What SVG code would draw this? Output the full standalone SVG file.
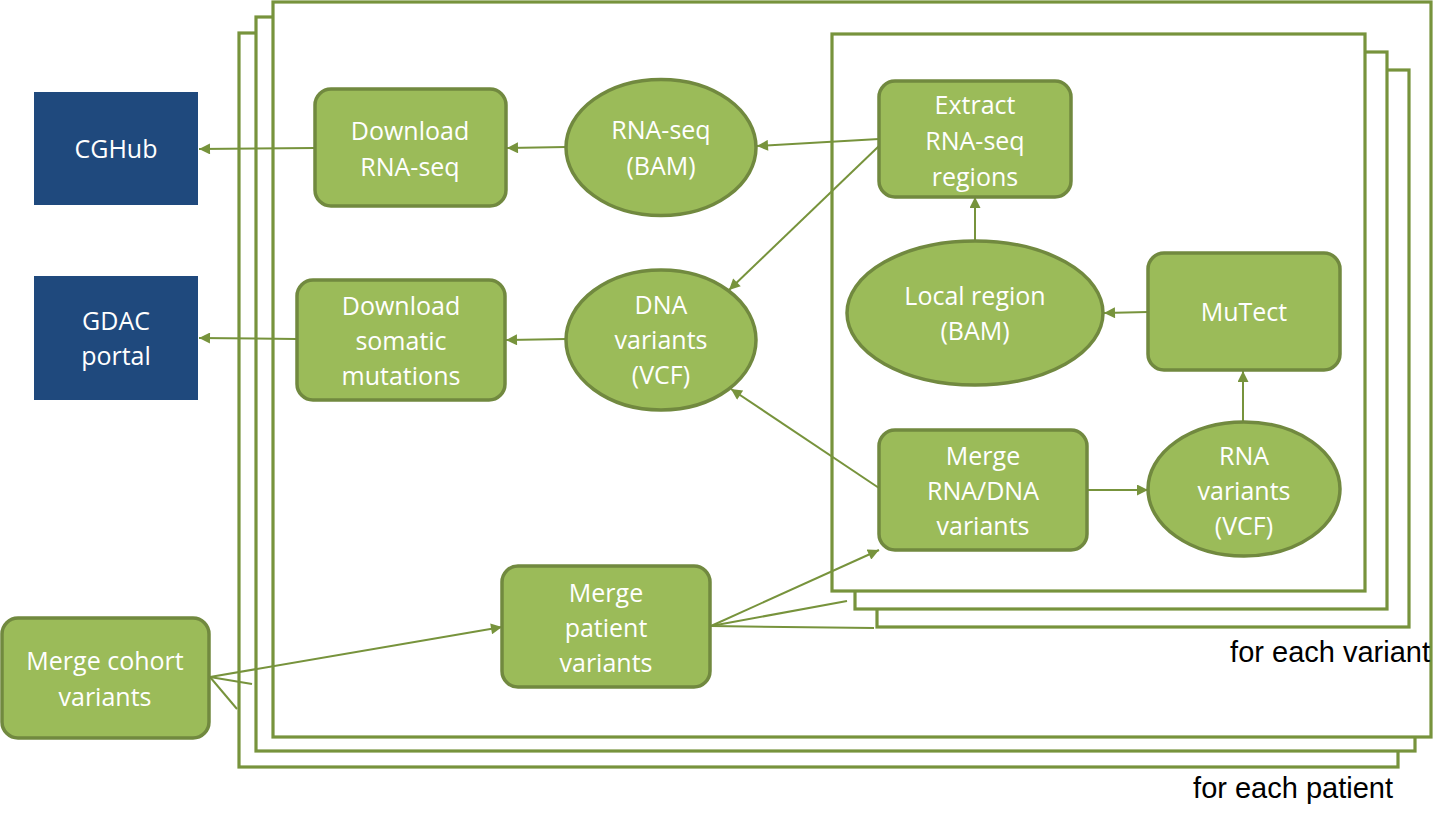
<svg xmlns="http://www.w3.org/2000/svg" width="1447" height="823" viewBox="0 0 1447 823">
<defs>
<style>
.frame{fill:#FFFFFF;stroke:#77933C;stroke-width:3.2}
.node{fill:#9BBB59;stroke:#71893F;stroke-width:3.5}
.src{fill:#1F497D;stroke:none}
.lbl{font-family:"Open Sans","Noto Sans","DejaVu Sans",sans-serif;font-size:25px;fill:#FFFFFF;text-anchor:middle}
.cap{font-family:"Liberation Sans",Arial,sans-serif;font-size:29px;fill:#000000;text-anchor:end}
.edge{stroke:#77933C;stroke-width:2;fill:none}
</style>
<marker id="arr" viewBox="0 0 10 10" refX="10" refY="5" markerWidth="12" markerHeight="11" markerUnits="userSpaceOnUse" orient="auto">
<path d="M0,0 L10,5 L0,10 z" fill="#77933C"/>
</marker>
</defs>
<rect width="1447" height="823" fill="#FFFFFF"/>

<g id="patient-frames">
<rect class="frame" x="239" y="33" width="1159" height="734"/>
<rect class="frame" x="256" y="17" width="1159" height="734"/>
<rect class="frame" x="273" y="2" width="1158" height="735"/>
</g>
<g id="variant-frames">
<rect class="frame" x="877" y="70" width="532" height="557"/>
<rect class="frame" x="855" y="52" width="532" height="557"/>
<rect class="frame" x="832" y="34" width="533" height="557"/>
</g>

<g id="connectors">
<line class="edge" x1="315" y1="148" x2="199" y2="149" marker-end="url(#arr)"/>
<line class="edge" x1="566" y1="147" x2="507" y2="148" marker-end="url(#arr)"/>
<line class="edge" x1="879" y1="139" x2="757" y2="146" marker-end="url(#arr)"/>
<line class="edge" x1="879" y1="146" x2="729" y2="290" marker-end="url(#arr)"/>
<line class="edge" x1="975" y1="241" x2="975" y2="197" marker-end="url(#arr)"/>
<line class="edge" x1="1148" y1="312" x2="1104" y2="313" marker-end="url(#arr)"/>
<line class="edge" x1="1243" y1="422" x2="1243" y2="371" marker-end="url(#arr)"/>
<line class="edge" x1="1088" y1="490" x2="1148" y2="490" marker-end="url(#arr)"/>
<line class="edge" x1="879" y1="488" x2="731" y2="389" marker-end="url(#arr)"/>
<line class="edge" x1="566" y1="339" x2="506" y2="340" marker-end="url(#arr)"/>
<line class="edge" x1="297" y1="339" x2="199" y2="338" marker-end="url(#arr)"/>
<line class="edge" x1="711" y1="626" x2="879" y2="550" marker-end="url(#arr)"/>
<line class="edge" x1="711" y1="626" x2="847" y2="601"/>
<line class="edge" x1="711" y1="626" x2="874" y2="628"/>
<line class="edge" x1="210" y1="677" x2="502" y2="627" marker-end="url(#arr)"/>
<line class="edge" x1="210" y1="677" x2="252" y2="684"/>
<line class="edge" x1="210" y1="677" x2="237" y2="709"/>
</g>

<g id="cghub">
<rect class="src" x="34" y="92" width="164" height="113"/>
<text class="lbl" x="116" y="158">CGHub</text>
</g>
<g id="gdac">
<rect class="src" x="34" y="276" width="164" height="124"/>
<text class="lbl" x="116" y="330">GDAC</text>
<text class="lbl" x="116" y="365">portal</text>
</g>
<g id="download-rnaseq">
<rect class="node" x="315" y="89" width="191" height="117" rx="16"/>
<text class="lbl" x="410" y="140">Download</text>
<text class="lbl" x="410" y="176">RNA-seq</text>
</g>
<g id="rnaseq-bam">
<ellipse class="node" cx="661" cy="147.5" rx="95" ry="68"/>
<text class="lbl" x="661" y="139">RNA-seq</text>
<text class="lbl" x="661" y="175">(BAM)</text>
</g>
<g id="extract">
<rect class="node" x="879" y="81" width="192" height="116" rx="16"/>
<text class="lbl" x="975" y="114">Extract</text>
<text class="lbl" x="975" y="150">RNA-seq</text>
<text class="lbl" x="975" y="186">regions</text>
</g>
<g id="download-somatic">
<rect class="node" x="297" y="280" width="208" height="120" rx="16"/>
<text class="lbl" x="401" y="315">Download</text>
<text class="lbl" x="401" y="350">somatic</text>
<text class="lbl" x="401" y="385">mutations</text>
</g>
<g id="dna-variants">
<ellipse class="node" cx="661" cy="340" rx="95" ry="70"/>
<text class="lbl" x="661" y="314">DNA</text>
<text class="lbl" x="661" y="349">variants</text>
<text class="lbl" x="661" y="384">(VCF)</text>
</g>
<g id="local-region">
<ellipse class="node" cx="975" cy="313" rx="128" ry="72"/>
<text class="lbl" x="975" y="305">Local region</text>
<text class="lbl" x="975" y="340">(BAM)</text>
</g>
<g id="mutect">
<rect class="node" x="1148" y="253" width="192" height="117" rx="16"/>
<text class="lbl" x="1244" y="321">MuTect</text>
</g>
<g id="merge-rna-dna">
<rect class="node" x="879" y="430" width="208" height="120" rx="16"/>
<text class="lbl" x="983" y="465">Merge</text>
<text class="lbl" x="983" y="500">RNA/DNA</text>
<text class="lbl" x="983" y="535">variants</text>
</g>
<g id="rna-variants">
<ellipse class="node" cx="1244" cy="489" rx="96" ry="67"/>
<text class="lbl" x="1244" y="465">RNA</text>
<text class="lbl" x="1244" y="500">variants</text>
<text class="lbl" x="1244" y="535">(VCF)</text>
</g>
<g id="merge-patient">
<rect class="node" x="502" y="566" width="208" height="121" rx="16"/>
<text class="lbl" x="606" y="602">Merge</text>
<text class="lbl" x="606" y="637">patient</text>
<text class="lbl" x="606" y="672">variants</text>
</g>
<g id="merge-cohort">
<rect class="node" x="2" y="618" width="207" height="120" rx="16"/>
<text class="lbl" x="105" y="670">Merge cohort</text>
<text class="lbl" x="105" y="706">variants</text>
</g>

<g id="captions">
<text class="cap" x="1430" y="662">for each variant</text>
<text class="cap" x="1393" y="798">for each patient</text>
</g>
</svg>
